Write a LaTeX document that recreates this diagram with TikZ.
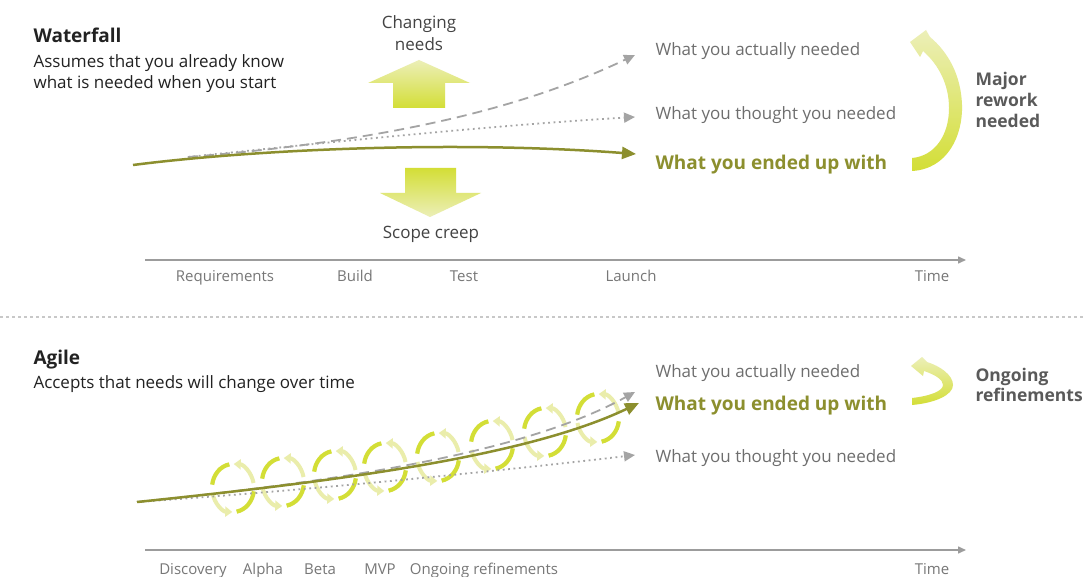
\documentclass[tikz,border=0pt]{standalone}
\usepackage{fontspec}
\setmainfont{Open Sans}
\usetikzlibrary{arrows.meta}
\definecolor{textdark}{HTML}{222222}
\definecolor{needgray}{HTML}{6E6E6E}
\definecolor{needline}{HTML}{A4A4A4}
\definecolor{axisline}{HTML}{9C9C9C}
\definecolor{axisgray}{HTML}{777777}
\definecolor{reworkgray}{HTML}{5A5A5A}
\definecolor{lineolive}{HTML}{8C8F2E}
\definecolor{limehigh}{HTML}{D3DE36}
\definecolor{limelow}{HTML}{ECEFB8}

\begin{document}
\begin{tikzpicture}[x=1pt,y=1pt,
    heading/.style={anchor=base west,font=\fontsize{19}{22}\selectfont\bfseries,textdark},
    blurb/.style={anchor=base west,font=\fontsize{17}{21}\selectfont,textdark},
    pushlabel/.style={anchor=base,font=\fontsize{17}{21}\selectfont,textdark!85},
    outcome/.style={anchor=base west,font=\fontsize{17}{21}\selectfont,needgray},
    ended/.style={anchor=base west,font=\fontsize{19}{22}\selectfont\bfseries,lineolive},
    rework/.style={anchor=base west,font=\fontsize{17.5}{21}\selectfont\bfseries,reworkgray},
    phase/.style={anchor=base,font=\fontsize{15}{18}\selectfont,axisgray},
    grayarrow/.style={needline,line width=1.8pt,-{Triangle[length=11pt,width=10pt]}},
    endedarrow/.style={lineolive,line width=2.5pt,-{Triangle[length=14pt,width=12pt]}},
    timeaxis/.style={axisline,line width=1.5pt,-{Triangle[length=8pt,width=7pt]}},
    cyclepale/.style={limelow!90!limehigh,line width=4pt,-{Triangle[length=7pt,width=10pt]}},
    cyclehigh/.style={limehigh,line width=4.2pt},
  ]
  \fill[white] (0,0) rectangle (1083,576);
  \useasboundingbox (0,0) rectangle (1083,576);

  % Waterfall
  \node[heading] (wf-title) at (30,533) {Waterfall};
  \node[blurb] (wf-blurb1) at (30,508) {Assumes that you already know};
  \node[blurb] (wf-blurb2) at (30,487) {what is needed when you start};

  \shade[top color=limelow,bottom color=limehigh]
    (393,468) -- (393,493) -- (368,493) -- (419,516) -- (470,493) -- (445,493) -- (445,468) -- cycle;
  \node[pushlabel] (wf-change1) at (419,547) {Changing};
  \node[pushlabel] (wf-change2) at (419,525) {needs};
  \shade[top color=limehigh,bottom color=limelow]
    (405,408) -- (405,383) -- (380,383) -- (430,359) -- (481,383) -- (456,383) -- (456,408) -- cycle;
  \node[pushlabel] (wf-creep) at (431,337) {Scope creep};

  \coordinate (wf-start) at (133,411);
  \coordinate (wf-split) at (188,419);
  \coordinate (wf-actual-end) at (635,521);
  \coordinate (wf-thought-end) at (635,459);
  \coordinate (wf-ended-end) at (636,422);
  \draw[grayarrow,dash pattern=on 1.8pt off 3.6pt] (wf-split) .. controls (350,436) and (500,451) .. (wf-thought-end);
  \draw[grayarrow,dash pattern=on 10pt off 6pt] (wf-split) .. controls (400,436) and (530,471) .. (wf-actual-end);
  \draw[endedarrow] (wf-start) .. controls (250,426) and (450,436) .. (wf-ended-end);

  \node[outcome] (wf-actual) at (652,520) {What you actually needed};
  \node[outcome] (wf-thought) at (652,456) {What you thought you needed};
  \node[ended] (wf-ended) at (652,406) {What you ended up with};

  \shade[top color=limelow,bottom color=limehigh]
    (912,405) .. controls (948,407) and (963,441) .. (962,471)
    .. controls (961,501) and (948,524) .. (930,539)
    -- (926,546) -- (910,534) -- (920,519) -- (923,525)
    .. controls (939,511) and (949,491) .. (949,468)
    .. controls (949,441) and (935,420) .. (912,418) -- cycle;
  \node[rework] (wf-rework1) at (972,490) {Major};
  \node[rework] (wf-rework2) at (972,469) {rework};
  \node[rework] (wf-rework3) at (972,448) {needed};

  \coordinate (wf-axis-start) at (145,316);
  \coordinate (wf-axis-end) at (966,316);
  \draw[timeaxis] (wf-axis-start) -- (wf-axis-end);
  \foreach \x/\name in {225/Requirements, 355/Build, 464/Test, 631/Launch, 932/Time} {
    \node[phase] (wf-\name) at (\x,294) {\name};
  }

  % divider
  \draw[needline!60,line width=1.2pt,dash pattern=on 3pt off 3pt] (0,259) -- (1083,259);

  % Agile
  \node[heading] (ag-title) at (30,212) {Agile};
  \node[blurb] (ag-blurb) at (30,188) {Accepts that needs will change over time};

  \foreach \cx/\cy in {233/88, 283/94, 335/101, 385/109, 438/119, 492/131, 545/144, 598/158} {
    \draw[cyclepale] (\cx,\cy) ++(12:21 and 24) arc[start angle=12,end angle=88,x radius=21,y radius=24];
    \draw[cyclehigh] (\cx,\cy) ++(100:21 and 24) arc[start angle=100,end angle=172,x radius=21,y radius=24];
    \draw[cyclepale] (\cx,\cy) ++(192:21 and 24) arc[start angle=192,end angle=268,x radius=21,y radius=24];
    \draw[cyclehigh] (\cx,\cy) ++(280:21 and 24) arc[start angle=280,end angle=352,x radius=21,y radius=24];
  }

  \coordinate (ag-start) at (137,74);
  \coordinate (ag-actual-end) at (635,184);
  \coordinate (ag-thought-end) at (635,121);
  \coordinate (ag-ended-end) at (639,173);
  \draw[grayarrow,dash pattern=on 1.8pt off 3.6pt] (ag-start) .. controls (300,85) and (500,105) .. (ag-thought-end);
  \draw[grayarrow,dash pattern=on 10pt off 6pt] (ag-start) .. controls (350,96) and (526,124) .. (ag-actual-end);
  \draw[endedarrow] (ag-start) .. controls (350,96) and (530,121) .. (ag-ended-end);

  \node[outcome] (ag-actual) at (652,199) {What you actually needed};
  \node[ended] (ag-ended) at (652,166) {What you ended up with};
  \node[outcome] (ag-thought) at (652,114) {What you thought you needed};

  \shade[top color=limelow,bottom color=limehigh]
    (912,171) .. controls (935,173) and (953,181) .. (953,191)
    .. controls (953,201) and (940,210) .. (927,214)
    -- (922,219) -- (911,210) -- (923,200) -- (924,205)
    .. controls (936,201) and (943,196) .. (943,191)
    .. controls (943,185) and (930,180) .. (912,178) -- cycle;
  \node[rework] (ag-rework1) at (972,195) {Ongoing};
  \node[rework] (ag-rework2) at (972,175) {refinements};

  \coordinate (ag-axis-start) at (145,26);
  \coordinate (ag-axis-end) at (966,26);
  \draw[timeaxis] (ag-axis-start) -- (ag-axis-end);
  \foreach \x/\name in {193/Discovery, 263/Alpha, 320/Beta, 380/MVP, 484/Ongoing refinements, 932/Time} {
    \node[phase] at (\x,2) {\name};
  }
\end{tikzpicture}
\end{document}
